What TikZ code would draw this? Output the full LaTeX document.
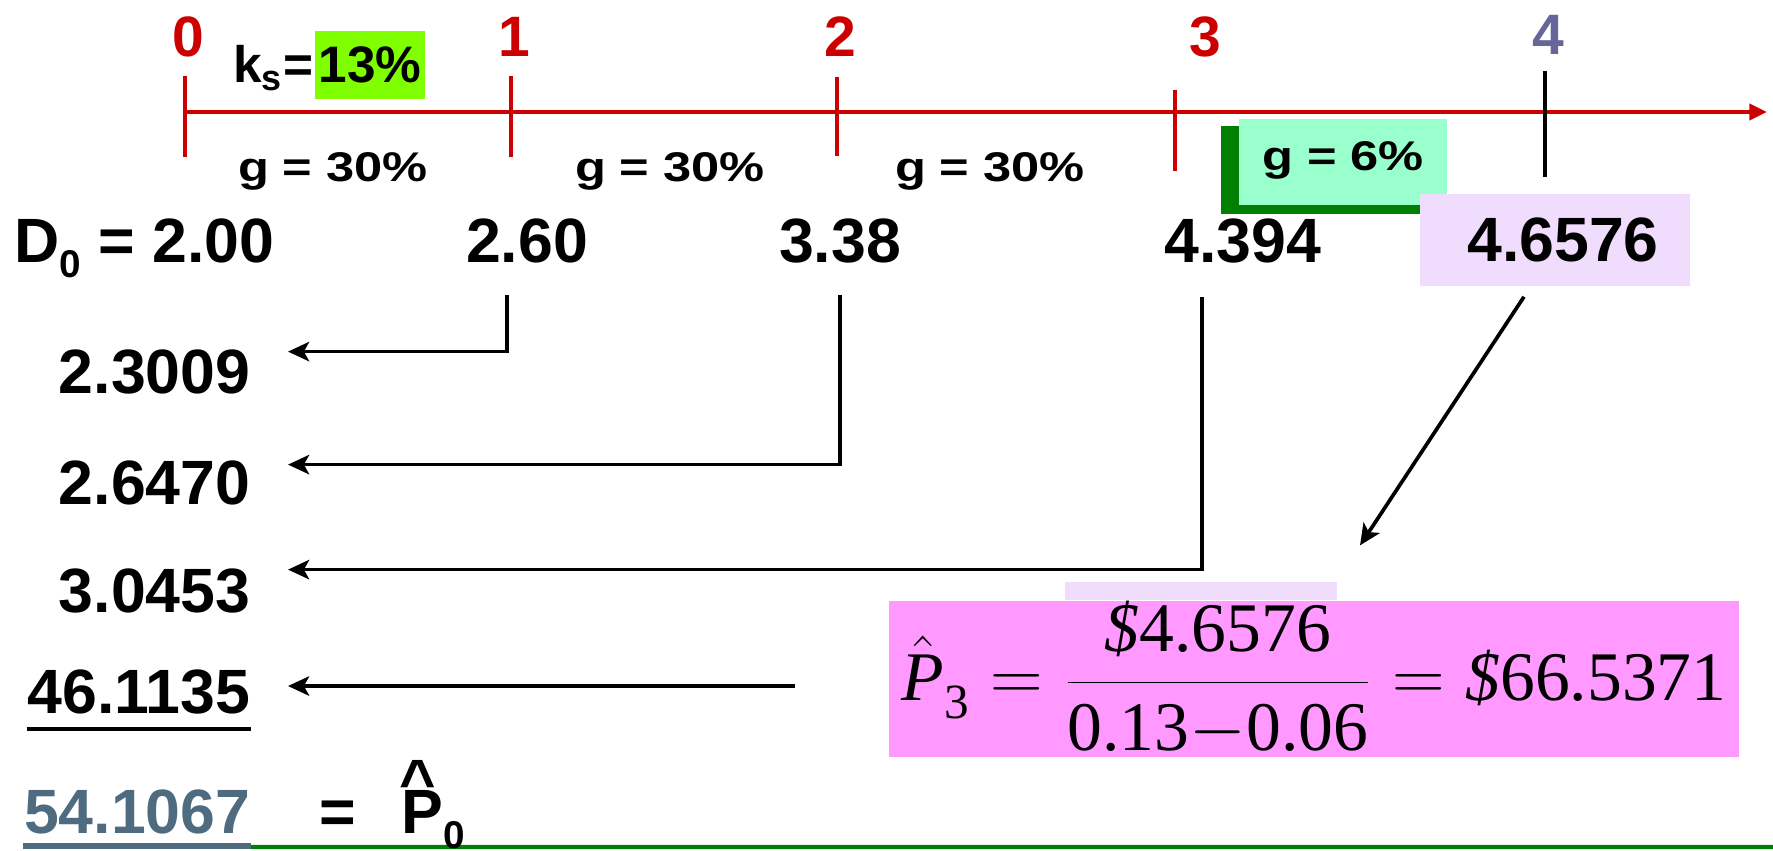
\documentclass[tikz,border=0pt]{standalone}
\usepackage{fontspec}
\setmainfont{Liberation Sans}
\newfontfamily\timesfont{Liberation Serif}
\usetikzlibrary{arrows.meta, positioning, calc, backgrounds}

\definecolor{tickred}{HTML}{CC0000}
\definecolor{yearblue}{HTML}{666699}
\definecolor{rategreen}{HTML}{80FF00}
\definecolor{mintbox}{HTML}{99FFCC}
\definecolor{darkgreen}{HTML}{007F00}
\definecolor{lavbox}{HTML}{F0DCFC}
\definecolor{pinkbox}{HTML}{FF99FF}
\definecolor{slatetext}{HTML}{4F6B80}

\newcommand{\tmsf}[1]{\mbox{\timesfont\mdseries #1}}
\newcommand{\lowsub}[1]{\raisebox{-0.24em}{\fontsize{11}{11}\selectfont #1}}

\begin{document}
\begin{tikzpicture}[
    x=0.01cm, y=-0.01cm,
    % Define specific node styles
    year_node/.style={inner sep=0, text=tickred, font=\fontsize{16.2}{18}\selectfont\bfseries},
    rate_node/.style={inner sep=0, font=\fontsize{14.6}{17}\selectfont\bfseries},
    growth_node/.style={inner sep=0, font=\fontsize{11.8}{14}\selectfont\bfseries},
    div_node/.style={inner sep=0, font=\fontsize{17.8}{20}\selectfont\bfseries},
    pv_node/.style={inner sep=0, anchor=base east, font=\fontsize{17.8}{20}\selectfont\bfseries},
    time_line/.style={draw=tickred, line width=1.2pt},
    tick_mark/.style={draw=tickred, line width=1.05pt},
    arrow/.style={-{Stealth[length=6pt, width=5.5pt, inset=1.5pt]}, line width=1.05pt, draw=black},
]
\useasboundingbox (0,0) rectangle (1773,850);

% Time line with ticks
\coordinate (t0) at (185,112);
\coordinate (tend) at (1767,112);
\draw[time_line, -{Triangle[length=5pt, width=4.5pt]}] (t0) -- (tend);
\draw[tick_mark] (185,76) -- (185,157);
\draw[tick_mark] (511,76) -- (511,157);
\draw[tick_mark] (837,77) -- (837,156);
\draw[tick_mark] (1175,90) -- (1175,171);
\draw[line width=1.05pt] (1545,71) -- (1545,177);

% Year labels
\node[year_node] (y0) at (188,37) {0};
\node[year_node] (y1) at (514,37) {1};
\node[year_node] (y2) at (840,37) {2};
\node[year_node] (y3) at (1205,37) {3};
\node[year_node, text=yearblue] (y4) at (1548,35) {4};

% Required return
\node[rate_node, fill=rategreen, minimum width=1.1cm, minimum height=0.68cm] (ks) at (370,65) {13\%};
\node[rate_node, anchor=base east] (kslbl) at (ks.base west) {k\textsubscript{s}=};

% Growth rates
\node[growth_node, anchor=base] (g1) at (333,181) {\scalebox{1.22}[1]{g = 30\%}};
\node[growth_node, anchor=base] (g2) at (670,181) {\scalebox{1.22}[1]{g = 30\%}};
\node[growth_node, anchor=base] (g3) at (990,181) {\scalebox{1.22}[1]{g = 30\%}};
\node[growth_node, fill=mintbox, minimum width=2.07cm, minimum height=0.86cm, text depth=0.12cm] (g4) at (1343,162) {\scalebox{1.22}[1]{g = 6\%}};
\begin{scope}[on background layer]
  \fill[darkgreen] ([xshift=-0.18cm, yshift=-0.08cm]g4.south west) rectangle ([xshift=-0.18cm, yshift=-0.08cm]g4.north east);
\end{scope}

% Dividends
\node[div_node, anchor=base west] (d0) at (14,262) {D\lowsub{0} = 2.00};
\node[div_node, anchor=base] (d1) at (527,262) {2.60};
\node[div_node, anchor=base] (d2) at (840,262) {3.38};
\node[div_node, anchor=base] (d3) at (1243,262) {4.394};
\node[div_node, fill=lavbox, minimum width=2.69cm, minimum height=0.92cm] (d4) at (1555,240) {\hspace*{0.16cm}4.6576};

% Present values
\node[pv_node] (p1) at (251,393) {2.3009};
\node[pv_node] (p2) at (251,504) {2.6470};
\node[pv_node] (p3) at (251,612) {3.0453};
\node[pv_node] (p4) at (251,713) {46.1135};
\node[pv_node, text=slatetext] (p0) at (251,833) {54.1067};
\draw[line width=1pt] ([yshift=-0.16cm]p4.base west) -- ([yshift=-0.16cm]p4.base east);
\draw[darkgreen, line width=1.2pt] ([yshift=-0.14cm]p0.base east) -- (1773,847);
\draw[slatetext, line width=1.6pt] ([yshift=-0.13cm]p0.base west) -- ([yshift=-0.13cm]p0.base east);

% Horizon value
\node[inner sep=0, fill=pinkbox, minimum width=8.49cm, minimum height=1.43cm, font=\fontsize{19.8}{23}\selectfont\mdseries] (hv) at (1314,679)
  {$\displaystyle \hat{\tmsf{\itshape P}}_{\raisebox{-0.1em}{\fontsize{14}{14}\selectfont\timesfont 3}} = \frac{\tmsf{\itshape\$}\tmsf{4.6576}}{\tmsf{0.13}{-}\tmsf{0.06}} = \tmsf{\itshape\$}\tmsf{66.5371}$};
\begin{scope}[on background layer]
  \fill[lavbox] ([xshift=-2.49cm]hv.north) rectangle ([xshift=0.23cm, yshift=0.18cm]hv.north);
\end{scope}

% Price today
\node[div_node, anchor=base] (eq) at (338,833) {=};
\node[div_node, anchor=base west] (phat) at (401,833) {P\lowsub{0}};
\node[div_node, anchor=base] (hatmark) at ([xshift=0.17cm, yshift=0.30cm]phat.base west) {\textasciicircum};

% Connections
\draw[arrow] ([xshift=-0.2cm, yshift=-0.32cm]d1.south) |- ([xshift=0.37cm, yshift=-0.03cm]p1.north east);
\draw[arrow] ([yshift=-0.32cm]d2.south) |- ([xshift=0.37cm, yshift=-0.05cm]p2.north east);
\draw[arrow] ([xshift=-0.41cm, yshift=-0.34cm]d3.south) |- ([xshift=0.37cm, yshift=-0.02cm]p3.north east);
\coordinate (hvstart) at (795,686);
\coordinate (p4end) at ([xshift=0.37cm]p4.east);
\draw[arrow] (hvstart) -- (p4end |- hvstart);
\draw[arrow] ([xshift=-0.31cm, yshift=-0.1cm]d4.south) -- ([xshift=0.46cm, yshift=0.55cm]hv.north);

\end{tikzpicture}
\end{document}
